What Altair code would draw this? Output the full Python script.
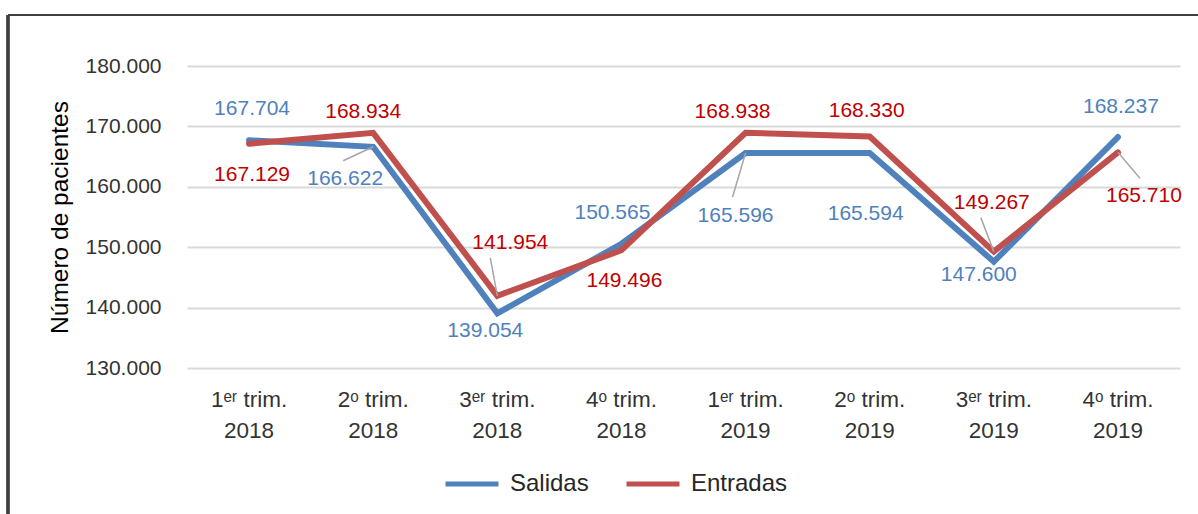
import altair as alt
import pandas as pd

# ---- data ----
categories = ["1ᵉʳ trim.|2018", "2ᵒ trim.|2018", "3ᵉʳ trim.|2018", "4ᵒ trim.|2018",
              "1ᵉʳ trim.|2019", "2ᵒ trim.|2019", "3ᵉʳ trim.|2019", "4ᵒ trim.|2019"]
salidas = [167704, 166622, 139054, 150565, 165596, 165594, 147600, 168237]
entradas = [167129, 168934, 141954, 149496, 168938, 168330, 149267, 165710]
series_names = ["Salidas", "Entradas"]
y_ticks = [130000, 140000, 150000, 160000, 170000, 180000]

# ---- styling (pixel offsets of the data labels and leader lines) ----
line_colors = ["#4F81BD", "#C0504D"]
label_colors = {"Salidas": "#4F81BD", "Entradas": "#C00000"}
label_offsets = {
    "Salidas": [(3, -31), (-28, 32), (-12, 18), (-9, -31), (-10, 63), (-4, 61), (-15, 13), (3, -30)],
    "Entradas": [(3, 31), (-10, -21), (13, -53), (3, 31), (-13, -21), (-3, -25), (-2, -49), (26, 44)],
}
leaders = [("Salidas", 1, -30, 14), ("Salidas", 4, -13, 44),
           ("Entradas", 2, -7, -38), ("Entradas", 6, -13, -34), ("Entradas", 7, 22, 26)]

FONT = "Liberation Sans"

rows = []
for s, vals in zip(series_names, [salidas, entradas]):
    for i, (c, v) in enumerate(zip(categories, vals)):
        rows.append({"cat": c, "series": s, "value": v, "idx": i,
                     "label": f"{v:,}".replace(",", ".")})
df = pd.DataFrame(rows)

x_enc = alt.X("cat:N", scale=alt.Scale(type="band", domain=categories, paddingInner=0, paddingOuter=0),
              axis=alt.Axis(title=None, labelExpr="split(datum.label, '|')", labelAngle=0,
                            labelFont=FONT, labelFontSize=22.5, labelColor="#333333",
                            labelPadding=20, labelLineHeight=31, ticks=False, domain=False,
                            grid=False))
y_enc = alt.Y("value:Q", scale=alt.Scale(domain=[130000, 180000], nice=False, zero=False),
              axis=alt.Axis(title="Número de pacientes", values=y_ticks,
                            labelExpr="replace(format(datum.value, ','), ',', '.')",
                            labelFont=FONT, labelFontSize=21, labelColor="#333333",
                            labelPadding=26, tickSize=0, ticks=False, domain=False,
                            grid=True, gridColor="#D9D9D9", gridWidth=1.8,
                            titleFont=FONT, titleFontSize=24.5, titleFontWeight="normal",
                            titleColor="#000000", titlePadding=13))

base = alt.Chart(df)
color_enc = alt.Color("series:N", scale=alt.Scale(domain=series_names, range=line_colors),
                      legend=alt.Legend(title=None, orient="none", legendX=256, legendY=389,
                                        direction="horizontal", symbolType="stroke",
                                        symbolStrokeWidth=5, symbolSize=2809,
                                        labelFont=FONT, labelFontSize=24, labelColor="#262626",
                                        labelOffset=9, columnPadding=27))

layers = []
# frame of the original figure (decoration)
layers.append(alt.Chart(df).mark_rule(color="#404040", strokeWidth=2.2).encode(
    x=alt.value(-179), x2=alt.value(1030), y=alt.value(-51)))
layers.append(alt.Chart(df).mark_rule(color="#404040", strokeWidth=2.2).encode(
    x=alt.value(-179), y=alt.value(-51), y2=alt.value(470)))

for s in series_names:
    layers.append(base.transform_filter(alt.datum.series == s).mark_line(
        strokeWidth=6, strokeCap="round", strokeJoin="miter").encode(
        x=x_enc, y=y_enc, color=color_enc))

for s, i, ox, oy in leaders:
    layers.append(base.transform_filter((alt.datum.series == s) & (alt.datum.idx == i)).mark_rule(
        color="#A6A6A6", strokeWidth=1.5, x2Offset=ox, y2Offset=oy).encode(
        x=x_enc, y=y_enc, x2="cat:N", y2="value:Q"))

for s in series_names:
    for i, (ox, oy) in enumerate(label_offsets[s]):
        layers.append(base.transform_filter((alt.datum.series == s) & (alt.datum.idx == i)).mark_text(
            dx=ox, dy=oy, font=FONT, fontSize=21, color=label_colors[s],
            align="center", baseline="middle").encode(
            x=x_enc, y=y_enc, text="label:N"))

chart = alt.layer(*layers).properties(
    width=993, height=302,
    autosize=alt.AutoSizeParams(type="none"),
    padding={"left": 187, "top": 66, "right": 18, "bottom": 146},
    background="white",
).configure_view(stroke=None)

chart.save("out.html", embed_options={"renderer": "svg", "actions": False})
